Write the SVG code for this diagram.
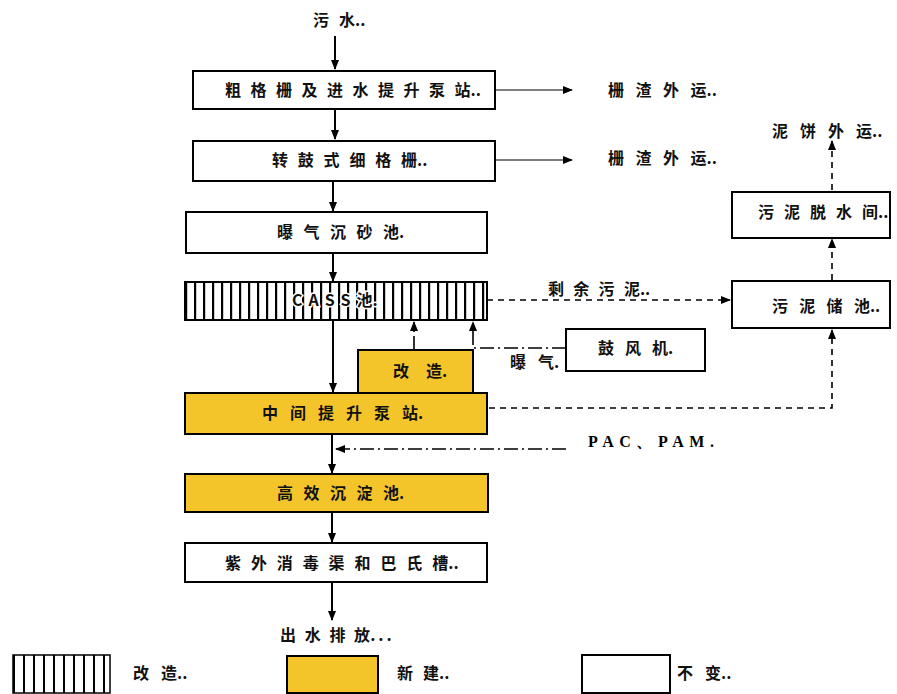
<svg xmlns="http://www.w3.org/2000/svg" width="897" height="694" viewBox="0 0 897 694">
<defs>
<style>
.box{stroke:#000;stroke-width:2;fill:#fff}
.new{fill:#F4C52A}
.t{font-family:"Noto Sans CJK SC","Liberation Sans",sans-serif;font-size:16px;font-weight:bold;fill:#111}
.ln{stroke:#000;stroke-width:2;fill:none}
.dash{stroke:#000;stroke-width:1.6;fill:none;stroke-dasharray:6 5}
.dd{stroke:#000;stroke-width:1.6;fill:none;stroke-dasharray:14 4 2 4}
</style>
<pattern id="hatch" patternUnits="userSpaceOnUse" x="185" y="0" width="9" height="10">
<rect width="9" height="10" fill="#fff"/>
<rect x="0" width="2.2" height="10" fill="#000"/>
</pattern>
<pattern id="hatch2" patternUnits="userSpaceOnUse" x="13" y="0" width="10" height="10">
<rect width="10" height="10" fill="#fff"/>
<rect x="0" width="2" height="10" fill="#000"/>
</pattern>
<marker id="ahb" viewBox="0 0 10 10" refX="9" refY="5" markerWidth="10" markerHeight="10" orient="auto-start-reverse" markerUnits="userSpaceOnUse">
<path d="M0,1 L10,5 L0,9 z" fill="#000"/>
</marker>
</defs>
<rect width="897" height="694" fill="#fff"/>

<g id="connectors">
<line class="ln" x1="335" y1="36" x2="335" y2="69" marker-end="url(#ahb)"/>
<line class="ln" x1="335" y1="109" x2="335" y2="139" marker-end="url(#ahb)"/>
<line class="ln" x1="333" y1="181" x2="333" y2="211" marker-end="url(#ahb)"/>
<line class="ln" x1="333" y1="253" x2="333" y2="281" marker-end="url(#ahb)"/>
<line class="ln" x1="333" y1="320" x2="333" y2="392" marker-end="url(#ahb)"/>
<line class="ln" x1="332" y1="434" x2="332" y2="473" marker-end="url(#ahb)"/>
<line class="ln" x1="332" y1="512" x2="332" y2="542" marker-end="url(#ahb)"/>
<line class="ln" x1="332" y1="582" x2="332" y2="620" marker-end="url(#ahb)"/>
<line x1="495" y1="90" x2="572" y2="90" stroke="#000" stroke-width="1.2" marker-end="url(#ahb)"/>
<line x1="495" y1="160" x2="572" y2="160" stroke="#000" stroke-width="1.2" marker-end="url(#ahb)"/>
<line class="dash" x1="487" y1="300" x2="730" y2="300" marker-end="url(#ahb)"/>
<line class="dash" x1="832" y1="280" x2="832" y2="239" marker-end="url(#ahb)"/>
<line class="dash" x1="832" y1="190" x2="832" y2="141" marker-end="url(#ahb)"/>
<polyline class="dash" points="489,408 832,408 832,330" marker-end="url(#ahb)"/>
<line class="dd" x1="414" y1="350" x2="414" y2="322" marker-end="url(#ahb)"/>
<polyline class="dd" points="566,348 473,348 473,322" marker-end="url(#ahb)"/>
<line class="dd" x1="566" y1="449" x2="336" y2="449" marker-end="url(#ahb)"/>
</g>

<g id="n-inflow"><text class="t" x="313" y="26"><tspan letter-spacing="10">污</tspan>水..</text></g>

<g id="n-coarse">
<rect class="box" x="193" y="71" width="302" height="38"/>
<text class="t" x="225" y="96"><tspan letter-spacing="9.5">粗格栅及进水提升泵</tspan>站..</text>
</g>
<g id="n-out1"><text class="t" x="608" y="96"><tspan letter-spacing="11.5">栅渣外</tspan>运..</text></g>

<g id="n-fine">
<rect class="box" x="193" y="141" width="302" height="40"/>
<text class="t" x="272" y="166"><tspan letter-spacing="9.8">转鼓式细格</tspan>栅..</text>
</g>
<g id="n-out2"><text class="t" x="608" y="164"><tspan letter-spacing="11.5">栅渣外</tspan>运..</text></g>

<g id="n-grit">
<rect class="box" x="186" y="212" width="301" height="41"/>
<text class="t" x="277" y="238"><tspan letter-spacing="10.5">曝气沉砂</tspan>池.</text>
</g>

<g id="n-cass">
<rect x="185" y="282" width="302" height="38" fill="url(#hatch)" stroke="#000" stroke-width="2"/>
<text class="t" x="292" y="306" style="paint-order:stroke" stroke="#fff" stroke-width="3"><tspan letter-spacing="6">CASS</tspan>池.</text>
</g>
<g id="n-excess"><text class="t" x="548" y="295"><tspan letter-spacing="9.3">剩余污</tspan>泥..</text></g>

<g id="n-retrofit">
<rect class="box new" x="358" y="350" width="115" height="43"/>
<text class="t" x="393" y="377"><tspan letter-spacing="17">改</tspan>造.</text>
</g>

<g id="n-blower">
<rect class="box" x="566" y="329" width="139" height="42"/>
<text class="t" x="598" y="354"><tspan letter-spacing="11">鼓风</tspan>机.</text>
</g>
<g id="n-aer"><text class="t" x="510" y="368"><tspan letter-spacing="12">曝</tspan>气.</text></g>

<g id="n-midpump">
<rect class="box new" x="185" y="393" width="302" height="41"/>
<text class="t" x="262" y="419"><tspan letter-spacing="12">中间提升泵</tspan>站.</text>
</g>

<g id="n-pac"><text x="588" y="447" textLength="126" lengthAdjust="spacing" style="font-family:'Liberation Serif',serif;font-size:16px;font-weight:bold">PAC、PAM.</text></g>

<g id="n-hds">
<rect class="box new" x="185" y="474" width="303" height="38"/>
<text class="t" x="277" y="499"><tspan letter-spacing="10.5">高效沉淀</tspan>池.</text>
</g>

<g id="n-uv">
<rect class="box" x="185" y="543" width="302" height="39"/>
<text class="t" x="225" y="569"><tspan letter-spacing="9.9">紫外消毒渠和巴氏</tspan>槽..</text>
</g>

<g id="n-effluent"><text class="t" x="280" y="641"><tspan letter-spacing="8.7">出水排</tspan>放<tspan letter-spacing="3">...</tspan></text></g>

<g id="n-storage">
<rect class="box" x="732" y="281" width="158" height="47"/>
<text class="t" x="772" y="312"><tspan letter-spacing="11.3">污泥储</tspan>池..</text>
</g>
<g id="n-dewater">
<rect class="box" x="732" y="192" width="158" height="46"/>
<text class="t" x="758" y="218"><tspan letter-spacing="10">污泥脱水</tspan>间..</text>
</g>
<g id="n-cake"><text class="t" x="772" y="137"><tspan letter-spacing="12">泥饼外</tspan>运..</text></g>

<g id="legend">
<rect x="13" y="655" width="97" height="38" fill="url(#hatch2)" stroke="#000" stroke-width="1.5"/>
<text class="t" x="133" y="679"><tspan letter-spacing="12">改</tspan>造..</text>
<rect class="box new" x="287" y="656" width="91" height="37" stroke-width="1.5"/>
<text class="t" x="397" y="679"><tspan letter-spacing="10">新</tspan>建..</text>
<rect class="box" x="582" y="655" width="88" height="38" stroke-width="1.5"/>
<text class="t" x="677" y="679"><tspan letter-spacing="12">不</tspan>变..</text>
</g>
</svg>
